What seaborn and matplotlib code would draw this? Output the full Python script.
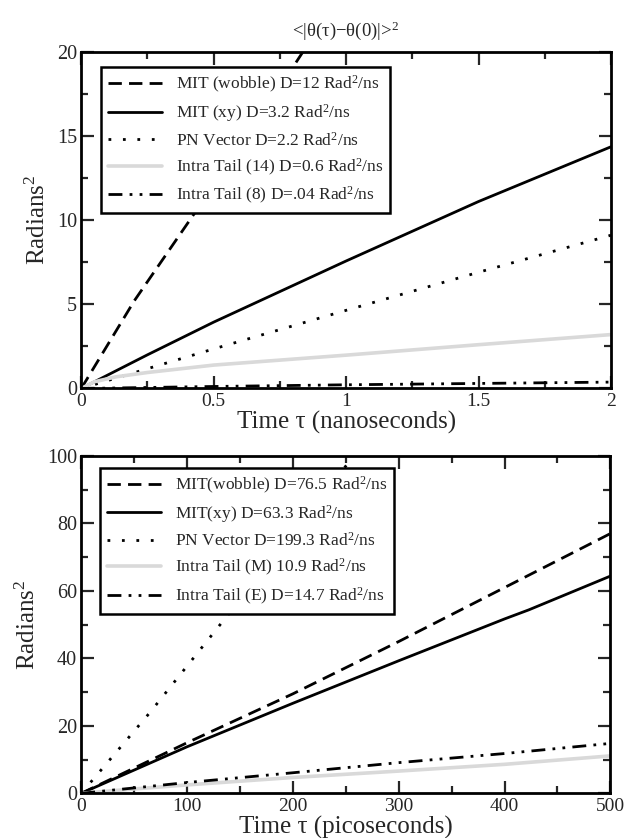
import matplotlib
matplotlib.use("Agg")
import matplotlib.pyplot as plt
import seaborn as sns
import numpy as np
from matplotlib.ticker import MultipleLocator, FuncFormatter

### data

# top panel, nanoseconds
ns_wobble_t = [0, 0.2, 0.41, 0.63, 0.85]
ns_wobble_y = [0, 5.2, 10.0, 15.0, 20.3]
ns_xy_t = [0, 0.25, 0.5, 1.0, 1.5, 2.0]
ns_xy_y = [0, 2.0, 3.94, 7.57, 11.1, 14.35]
ns_pn_t = [0, 0.5, 1.0, 1.5, 2.0]
ns_pn_y = [0, 2.35, 4.64, 6.9, 9.1]
ns_t14_t = [0, 0.05, 0.13, 0.25, 0.5, 1.0, 1.5, 2.0]
ns_t14_y = [0, 0.4, 0.69, 0.95, 1.39, 1.98, 2.6, 3.2]
ns_t8_t = [0, 0.5, 1.0, 1.5, 2.0]
ns_t8_y = [0, 0.12, 0.22, 0.3, 0.38]

ns_labels = ['MIT (wobble) D=12 Rad$^2$/ns', 'MIT (xy) D=3.2 Rad$^2$/ns',
             'PN Vector D=2.2 Rad$^2$/ns', 'Intra Tail (14) D=0.6 Rad$^2$/ns',
             'Intra Tail (8) D=.04 Rad$^2$/ns']

# bottom panel, picoseconds
ps_wobble_t = [0, 100, 200, 300, 400, 450, 500]
ps_wobble_y = [0, 15.0, 29.5, 45.0, 61.0, 69.0, 77.0]
ps_xy_t = [0, 100, 200, 300, 400, 423, 500]
ps_xy_y = [0, 13.8, 26.7, 39.3, 51.7, 54.4, 64.4]
ps_pn_t = [0, 65, 133, 255]
ps_pn_y = [0, 24.0, 50.7, 99.0]
ps_tm_t = [0, 50, 100, 200, 300, 400, 500]
ps_tm_y = [0, 1.3, 2.5, 4.7, 6.6, 8.6, 11.1]
ps_te_t = [0, 100, 200, 300, 400, 500]
ps_te_y = [0, 3.2, 6.1, 9.1, 11.8, 14.8]

ps_labels = ['MIT(wobble) D=76.5 Rad$^2$/ns', 'MIT(xy) D=63.3 Rad$^2$/ns',
             'PN Vector D=199.3 Rad$^2$/ns', 'Intra Tail (M) 10.9 Rad$^2$/ns',
             'Intra Tail (E) D=14.7 Rad$^2$/ns']

###

sns.set_style('ticks')
plt.rcParams['font.family'] = ['Liberation Serif', 'DejaVu Serif']
plt.rcParams['mathtext.fontset'] = 'custom'
plt.rcParams['mathtext.rm'] = 'Liberation Serif'
plt.rcParams['mathtext.it'] = 'Liberation Serif:italic'

styles = [
    dict(color='black', lw=2.0, linestyle=(0, (4.8, 2.6))),
    dict(color='black', lw=2.0, linestyle='-'),
    dict(color='black', lw=2.0, linestyle=(0, (1, 4.2))),
    dict(color='#d9d9d9', lw=2.6, linestyle='-'),
    dict(color='black', lw=2.0, linestyle=(0, (5, 2.6, 1, 2.6, 1, 2.6))),
]

fig = plt.figure(figsize=(6.25, 8.38), dpi=100)
ax1 = fig.add_axes([0.13, 0.5364, 0.8475, 0.402])
ax2 = fig.add_axes([0.13, 0.0533, 0.8465, 0.4025])

top_series = [(ns_wobble_t, ns_wobble_y), (ns_xy_t, ns_xy_y), (ns_pn_t, ns_pn_y),
              (ns_t14_t, ns_t14_y), (ns_t8_t, ns_t8_y)]
bot_series = [(ps_wobble_t, ps_wobble_y), (ps_xy_t, ps_xy_y), (ps_pn_t, ps_pn_y),
              (ps_tm_t, ps_tm_y), (ps_te_t, ps_te_y)]

for ax, series, labels in [(ax1, top_series, ns_labels), (ax2, bot_series, ps_labels)]:
    for (t, y), lab, st in zip(series, labels, styles):
        sns.lineplot(x=t, y=y, ax=ax, label=lab, **st)

fmt = FuncFormatter(lambda v, p: '%g' % v)

ax1.set_xlim(0, 2)
ax1.set_ylim(0, 20)
ax1.xaxis.set_major_locator(MultipleLocator(0.5))
ax1.xaxis.set_minor_locator(MultipleLocator(0.25))
ax1.yaxis.set_major_locator(MultipleLocator(5))
ax1.yaxis.set_minor_locator(MultipleLocator(2.5))
ax1.set_xlabel('Time τ (nanoseconds)', fontsize=18, labelpad=1)

ax2.set_xlim(0, 500)
ax2.set_ylim(0, 100)
ax2.xaxis.set_major_locator(MultipleLocator(100))
ax2.xaxis.set_minor_locator(MultipleLocator(50))
ax2.yaxis.set_major_locator(MultipleLocator(20))
ax2.yaxis.set_minor_locator(MultipleLocator(10))
ax2.set_xlabel('Time τ (picoseconds)', fontsize=18, labelpad=1)

anchors = {ax1: (0.038, 0.955), ax2: (0.036, 0.966)}
for ax in (ax1, ax2):
    ax.xaxis.set_major_formatter(fmt)
    ax.yaxis.set_major_formatter(fmt)
    ax.set_ylabel('Radians$^2$', fontsize=18, labelpad=5)
    ax.tick_params(which='both', direction='in', top=True, right=True, width=1.6, pad=3)
    ax.tick_params(axis='x', labelsize=14)
    ax.tick_params(axis='y', labelsize=14.5)
    ax.tick_params(which='major', length=9)
    ax.tick_params(which='minor', length=5)
    for sp in ax.spines.values():
        sp.set_visible(True)
        sp.set_linewidth(2.0)
        sp.set_color('black')
    leg = ax.legend(loc='upper left', bbox_to_anchor=anchors[ax], fontsize=12.5,
                    handlelength=3.1, handletextpad=0.8, labelspacing=0.42,
                    borderpad=0.4, borderaxespad=0, fancybox=False, framealpha=1,
                    edgecolor='black')
    leg.get_frame().set_linewidth(1.8)

fig.text(0.553, 0.963, '<|θ(τ)−θ(0)|>$^2$', ha='center', va='center', fontsize=13.5)

fig.savefig('out.png', dpi=100)
